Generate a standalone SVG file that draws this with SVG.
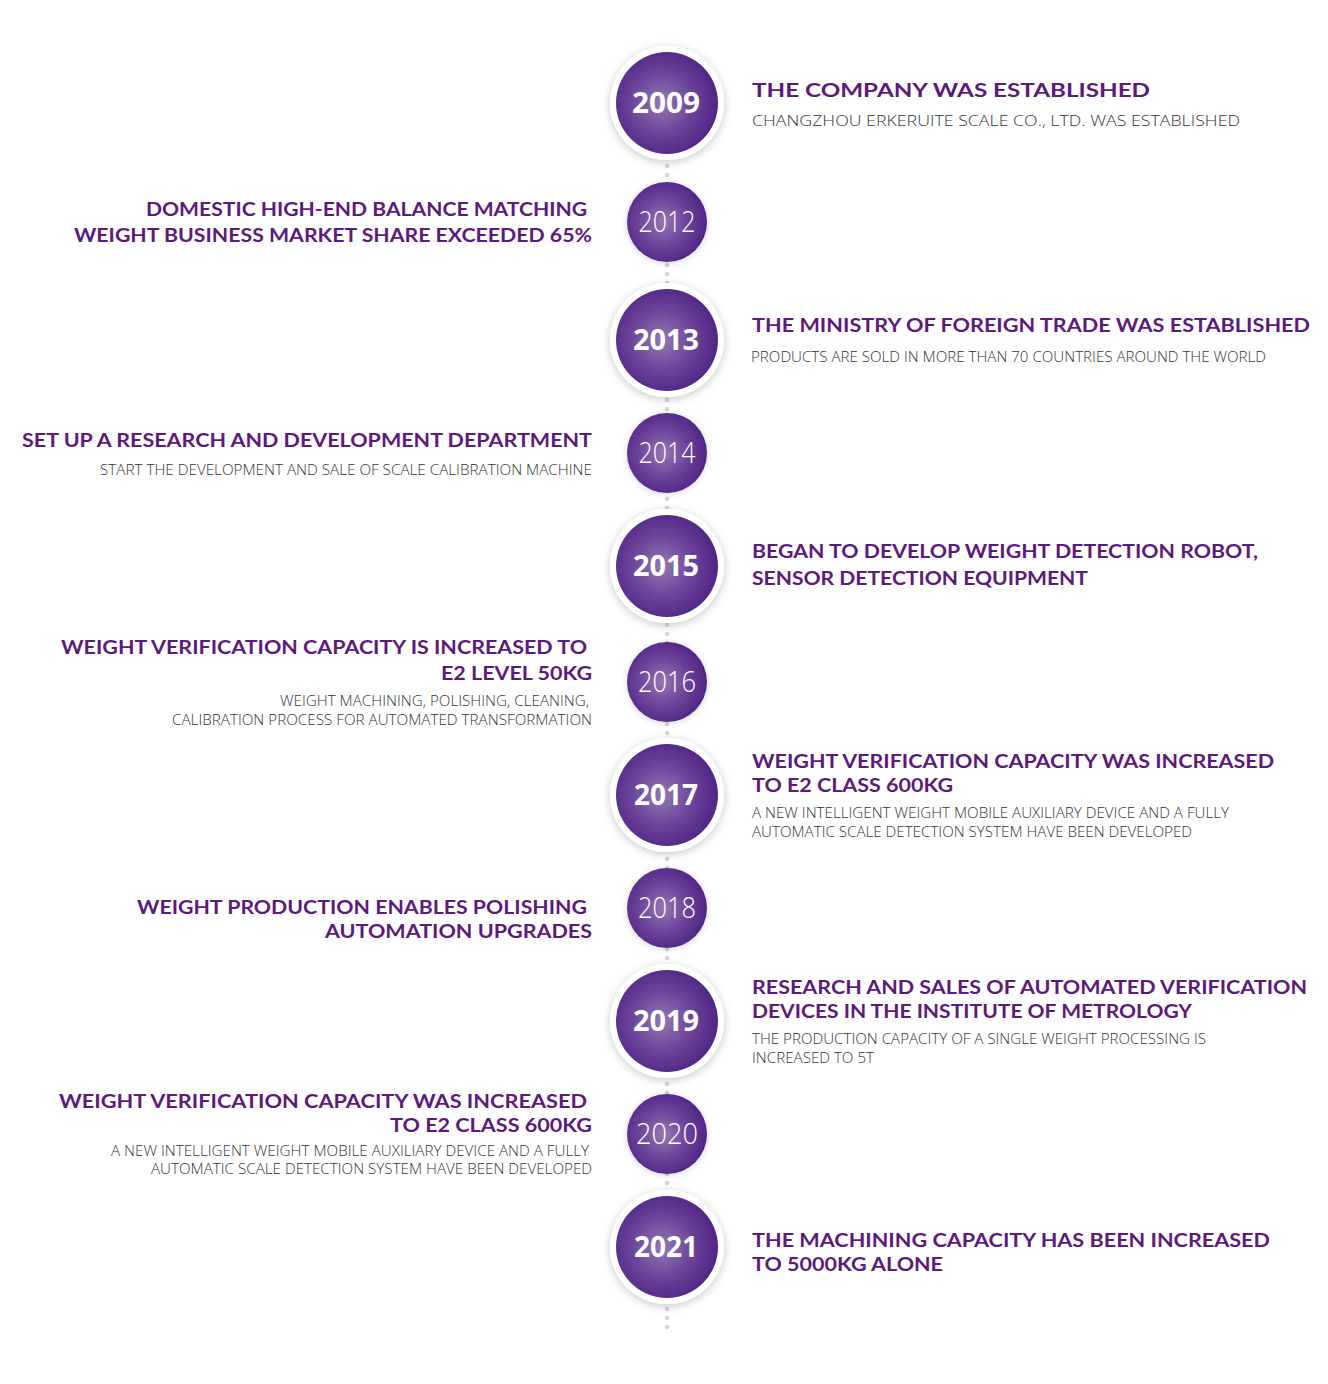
<svg xmlns="http://www.w3.org/2000/svg" width="1328" height="1384" viewBox="0 0 1328 1384">
<defs>
<radialGradient id="pg" cx="0.45" cy="0.5" r="0.55">
<stop offset="0" stop-color="#9478b2"/>
<stop offset="0.55" stop-color="#6b449a"/>
<stop offset="1" stop-color="#4f2585"/>
</radialGradient>
<filter id="sh" x="-40%" y="-40%" width="180%" height="180%">
<feDropShadow dx="0" dy="2" stdDeviation="5" flood-color="#000" flood-opacity="0.22"/>
</filter>
<filter id="sh2" x="-40%" y="-40%" width="180%" height="180%">
<feDropShadow dx="0" dy="1" stdDeviation="3" flood-color="#000" flood-opacity="0.18"/>
</filter>
</defs>
<style>
.h{font-family:Lato,"Liberation Sans",sans-serif;font-weight:700;fill:#5c1a7a;font-size:19.5px}
.s{font-family:"Open Sans","Liberation Sans",sans-serif;font-weight:300;fill:#333;font-size:15px}
.r{text-anchor:end}
.yb{font-family:"Open Sans","Liberation Sans",sans-serif;font-weight:700;fill:#fff;font-size:28px;text-anchor:middle}
.ys{font-family:"Open Sans","Liberation Sans",sans-serif;font-weight:300;fill:#fff;font-size:29px;text-anchor:middle}
.ring{fill:#fff;filter:url(#sh)}
.big{fill:url(#pg)}
.sm{fill:url(#pg);filter:url(#sh2)}
</style>
<rect width="1328" height="1384" fill="#fff"/>
<g id="connectors">
<line x1="667" y1="103" x2="667" y2="1336" stroke="#d6d6d6" stroke-width="4.5" stroke-linecap="round" stroke-dasharray="0 9"/>
</g>
<g id="n2009">
<circle class="ring" cx="667" cy="103" r="57"/><circle class="big" cx="667" cy="103" r="51"/>
<text class="yb" x="666" y="113" textLength="68" lengthAdjust="spacingAndGlyphs">2009</text>
<text class="h" x="752" y="97" font-size="22" textLength="398" lengthAdjust="spacingAndGlyphs">THE COMPANY WAS ESTABLISHED</text>
<text class="s" x="752" y="126" font-size="18" textLength="488" lengthAdjust="spacingAndGlyphs">CHANGZHOU ERKERUITE SCALE CO., LTD. WAS ESTABLISHED</text>
</g>
<g id="n2012">
<circle class="sm" cx="667" cy="222" r="40"/>
<text class="ys" x="667" y="232" textLength="57" lengthAdjust="spacingAndGlyphs">2012</text>
<text class="h r" x="587" y="216" textLength="441" lengthAdjust="spacingAndGlyphs">DOMESTIC HIGH-END BALANCE MATCHING</text>
<text class="h r" x="592" y="242" textLength="518" lengthAdjust="spacingAndGlyphs">WEIGHT BUSINESS MARKET SHARE EXCEEDED 65%</text>
</g>
<g id="n2013">
<circle class="ring" cx="667" cy="340" r="57"/><circle class="big" cx="667" cy="340" r="51"/>
<text class="yb" x="666" y="350" textLength="66" lengthAdjust="spacingAndGlyphs">2013</text>
<text class="h" x="752" y="332" textLength="558" lengthAdjust="spacingAndGlyphs">THE MINISTRY OF FOREIGN TRADE WAS ESTABLISHED</text>
<text class="s" x="751" y="362" textLength="515" lengthAdjust="spacingAndGlyphs">PRODUCTS ARE SOLD IN MORE THAN 70 COUNTRIES AROUND THE WORLD</text>
</g>
<g id="n2014">
<circle class="sm" cx="667" cy="453" r="40"/>
<text class="ys" x="667" y="463" textLength="57" lengthAdjust="spacingAndGlyphs">2014</text>
<text class="h r" x="592" y="447" textLength="570" lengthAdjust="spacingAndGlyphs">SET UP A RESEARCH AND DEVELOPMENT DEPARTMENT</text>
<text class="s r" x="592" y="475" textLength="492" lengthAdjust="spacingAndGlyphs">START THE DEVELOPMENT AND SALE OF SCALE CALIBRATION MACHINE</text>
</g>
<g id="n2015">
<circle class="ring" cx="667" cy="566" r="57"/><circle class="big" cx="667" cy="566" r="51"/>
<text class="yb" x="666" y="576" textLength="66" lengthAdjust="spacingAndGlyphs">2015</text>
<text class="h" x="752" y="558" textLength="506" lengthAdjust="spacingAndGlyphs">BEGAN TO DEVELOP WEIGHT DETECTION ROBOT,</text>
<text class="h" x="752" y="585" textLength="336" lengthAdjust="spacingAndGlyphs">SENSOR DETECTION EQUIPMENT</text>
</g>
<g id="n2016">
<circle class="sm" cx="667" cy="682" r="40"/>
<text class="ys" x="667" y="692" textLength="58" lengthAdjust="spacingAndGlyphs">2016</text>
<text class="h r" x="587" y="654" textLength="526" lengthAdjust="spacingAndGlyphs">WEIGHT VERIFICATION CAPACITY IS INCREASED TO</text>
<text class="h r" x="592" y="680" textLength="151" lengthAdjust="spacingAndGlyphs">E2 LEVEL 50KG</text>
<text class="s r" x="589" y="706" textLength="309" lengthAdjust="spacingAndGlyphs">WEIGHT MACHINING, POLISHING, CLEANING,</text>
<text class="s r" x="592" y="725" textLength="420" lengthAdjust="spacingAndGlyphs">CALIBRATION PROCESS FOR AUTOMATED TRANSFORMATION</text>
</g>
<g id="n2017">
<circle class="ring" cx="667" cy="795" r="57"/><circle class="big" cx="667" cy="795" r="51"/>
<text class="yb" x="666" y="805" textLength="64" lengthAdjust="spacingAndGlyphs">2017</text>
<text class="h" x="752" y="768" textLength="522" lengthAdjust="spacingAndGlyphs">WEIGHT VERIFICATION CAPACITY WAS INCREASED</text>
<text class="h" x="752" y="792" textLength="201" lengthAdjust="spacingAndGlyphs">TO E2 CLASS 600KG</text>
<text class="s" x="752" y="818" textLength="477" lengthAdjust="spacingAndGlyphs">A NEW INTELLIGENT WEIGHT MOBILE AUXILIARY DEVICE AND A FULLY</text>
<text class="s" x="752" y="837" textLength="440" lengthAdjust="spacingAndGlyphs">AUTOMATIC SCALE DETECTION SYSTEM HAVE BEEN DEVELOPED</text>
</g>
<g id="n2018">
<circle class="sm" cx="667" cy="908" r="40"/>
<text class="ys" x="667" y="918" textLength="58" lengthAdjust="spacingAndGlyphs">2018</text>
<text class="h r" x="587" y="914" textLength="450" lengthAdjust="spacingAndGlyphs">WEIGHT PRODUCTION ENABLES POLISHING</text>
<text class="h r" x="592" y="938" textLength="267" lengthAdjust="spacingAndGlyphs">AUTOMATION UPGRADES</text>
</g>
<g id="n2019">
<circle class="ring" cx="667" cy="1021" r="57"/><circle class="big" cx="667" cy="1021" r="51"/>
<text class="yb" x="666" y="1031" textLength="66" lengthAdjust="spacingAndGlyphs">2019</text>
<text class="h" x="752" y="994" textLength="555" lengthAdjust="spacingAndGlyphs">RESEARCH AND SALES OF AUTOMATED VERIFICATION</text>
<text class="h" x="752" y="1018" textLength="440" lengthAdjust="spacingAndGlyphs">DEVICES IN THE INSTITUTE OF METROLOGY</text>
<text class="s" x="752" y="1044" textLength="454" lengthAdjust="spacingAndGlyphs">THE PRODUCTION CAPACITY OF A SINGLE WEIGHT PROCESSING IS</text>
<text class="s" x="752" y="1063" textLength="122" lengthAdjust="spacingAndGlyphs">INCREASED TO 5T</text>
</g>
<g id="n2020">
<circle class="sm" cx="667" cy="1134" r="40"/>
<text class="ys" x="667" y="1144" textLength="62" lengthAdjust="spacingAndGlyphs">2020</text>
<text class="h r" x="587" y="1108" textLength="528" lengthAdjust="spacingAndGlyphs">WEIGHT VERIFICATION CAPACITY WAS INCREASED</text>
<text class="h r" x="592" y="1132" textLength="202" lengthAdjust="spacingAndGlyphs">TO E2 CLASS 600KG</text>
<text class="s r" x="589" y="1156" textLength="478" lengthAdjust="spacingAndGlyphs">A NEW INTELLIGENT WEIGHT MOBILE AUXILIARY DEVICE AND A FULLY</text>
<text class="s r" x="592" y="1174" textLength="441" lengthAdjust="spacingAndGlyphs">AUTOMATIC SCALE DETECTION SYSTEM HAVE BEEN DEVELOPED</text>
</g>
<g id="n2021">
<circle class="ring" cx="667" cy="1247" r="57"/><circle class="big" cx="667" cy="1247" r="51"/>
<text class="yb" x="666" y="1257" textLength="64" lengthAdjust="spacingAndGlyphs">2021</text>
<text class="h" x="752" y="1247" textLength="518" lengthAdjust="spacingAndGlyphs">THE MACHINING CAPACITY HAS BEEN INCREASED</text>
<text class="h" x="752" y="1271" textLength="191" lengthAdjust="spacingAndGlyphs">TO 5000KG ALONE</text>
</g>
</svg>
